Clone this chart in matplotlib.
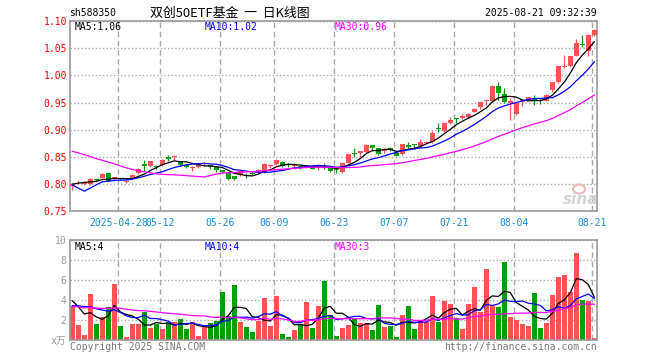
import matplotlib
matplotlib.use("Agg")
import matplotlib.pyplot as plt
from matplotlib.patches import Ellipse
import pandas as pd

plt.rcParams['font.family'] = ['DejaVu Sans Mono', 'Noto Sans CJK SC']

# daily K line, 88 sessions 2025-04-16 .. 2025-08-21 (x = session index)
open_ = [0.797, 0.803, 0.800, 0.800, 0.809, 0.8116, 0.8196, 0.811, 0.811, 0.803,
         0.8104, 0.8196, 0.8368, 0.8325, 0.8337, 0.8343, 0.8496, 0.849, 0.8417, 0.8356,
         0.8288, 0.831, 0.8368, 0.8355, 0.8306, 0.8251, 0.8202, 0.8141, 0.8166, 0.8153,
         0.820, 0.8227, 0.8215, 0.8325, 0.8368, 0.840, 0.8362, 0.833, 0.8325, 0.831,
         0.832, 0.831, 0.834, 0.829, 0.8273, 0.823, 0.8396, 0.8567, 0.858, 0.859,
         0.8715, 0.866, 0.860, 0.866, 0.857, 0.856, 0.872, 0.8739, 0.871, 0.876,
         0.877, 0.9023, 0.8978, 0.912, 0.921, 0.922, 0.9227, 0.933, 0.941, 0.9527,
         0.9533, 0.980, 0.966, 0.950, 0.9288, 0.951, 0.955, 0.955, 0.953, 0.9527,
         0.9723, 0.9877, 1.0153, 1.0177, 1.036, 1.0582, 1.044, 1.0747]
high = [0.802, 0.8067, 0.805, 0.811, 0.810, 0.820, 0.821, 0.814, 0.812, 0.807,
        0.819, 0.829, 0.8441, 0.843, 0.835, 0.846, 0.8527, 0.854, 0.843, 0.837,
        0.8325, 0.837, 0.840, 0.836, 0.8325, 0.8264, 0.8205, 0.8145, 0.825, 0.8196,
        0.822, 0.827, 0.838, 0.836, 0.846, 0.842, 0.839, 0.839, 0.834, 0.836,
        0.833, 0.837, 0.838, 0.831, 0.829, 0.839, 0.856, 0.866, 0.861, 0.873,
        0.872, 0.867, 0.867, 0.869, 0.858, 0.874, 0.878, 0.874, 0.883, 0.880,
        0.898, 0.913, 0.914, 0.923, 0.9215, 0.929, 0.931, 0.940, 0.9515, 0.955,
        0.982, 0.987, 0.977, 0.958, 0.9515, 0.955, 0.961, 0.964, 0.957, 0.966,
        0.988, 1.018, 1.038, 1.036, 1.067, 1.0747, 1.076, 1.085]
low = [0.790, 0.8006, 0.799, 0.799, 0.806, 0.811, 0.805, 0.808, 0.807, 0.802,
       0.810, 0.818, 0.825, 0.831, 0.8276, 0.833, 0.8423, 0.8435, 0.833, 0.829,
       0.825, 0.830, 0.8337, 0.8276, 0.8227, 0.8202, 0.8074, 0.8067, 0.8153, 0.811,
       0.816, 0.822, 0.821, 0.829, 0.836, 0.831, 0.832, 0.828, 0.828, 0.830,
       0.827, 0.826, 0.828, 0.822, 0.821, 0.820, 0.839, 0.849, 0.849, 0.858,
       0.860, 0.853, 0.857, 0.860, 0.851, 0.854, 0.867, 0.864, 0.870, 0.874,
       0.875, 0.8966, 0.896, 0.911, 0.912, 0.920, 0.921, 0.932, 0.939, 0.945,
       0.953, 0.955, 0.949, 0.918, 0.927, 0.944, 0.954, 0.946, 0.947, 0.952,
       0.970, 0.986, 1.014, 1.016, 1.035, 1.052, 1.035, 1.072]
close = [0.801, 0.804, 0.8037, 0.8098, 0.8067, 0.8184, 0.8061, 0.812, 0.8086, 0.805,
         0.8172, 0.8282, 0.8325, 0.842, 0.8313, 0.8447, 0.846, 0.8496, 0.8343, 0.8306,
         0.8294, 0.836, 0.838, 0.8313, 0.8257, 0.822, 0.8098, 0.8092, 0.8233, 0.8141,
         0.819, 0.8264, 0.8368, 0.8337, 0.8435, 0.8337, 0.835, 0.834, 0.829, 0.835,
         0.828, 0.833, 0.832, 0.825, 0.826, 0.8384, 0.8555, 0.8549, 0.860, 0.872,
         0.866, 0.856, 0.8647, 0.862, 0.852, 0.8733, 0.869, 0.8727, 0.878, 0.878,
         0.8935, 0.901, 0.9131, 0.918, 0.920, 0.926, 0.9294, 0.939, 0.951, 0.955,
         0.981, 0.967, 0.9515, 0.952, 0.949, 0.954, 0.9595, 0.954, 0.952, 0.9644,
         0.987, 1.017, 1.0177, 1.0349, 1.0594, 1.0563, 1.0747, 1.084]
volume = [3.45, 1.5, 0.5, 4.6, 1.6, 2.3, 3.3, 5.6, 1.4, 0.3,
          1.6, 1.6, 2.85, 1.25, 1.6, 1.1, 1.8, 1.8, 2.1, 1.15,
          1.8, 0.45, 1.4, 1.7, 1.95, 4.87, 2.4, 5.5, 1.8, 1.3,
          0.8, 1.95, 4.2, 1.4, 4.45, 0.6, 0.3, 1.0, 1.6, 3.85,
          1.2, 3.45, 5.97, 2.5, 0.4, 1.2, 1.5, 2.2, 1.7, 1.7,
          1.0, 3.5, 1.3, 1.4, 0.3, 2.5, 3.4, 1.1, 1.9, 1.8,
          4.4, 1.8, 3.95, 3.6, 2.2, 1.1, 3.6, 5.3, 2.8, 7.1,
          3.4, 3.3, 7.85, 2.3, 2.0, 1.6, 1.4, 4.7, 1.2, 1.7,
          4.5, 6.3, 6.5, 4.8, 8.7, 4.0, 3.9, 0.2]

# the 29 sessions before the window, only used to seed the moving averages
pre_close = [0.885, 0.905, 0.915, 0.920, 0.912, 0.905, 0.910, 0.918, 0.913,
             0.905, 0.900, 0.895, 0.893, 0.892, 0.870, 0.862, 0.858, 0.858,
             0.855, 0.852, 0.862, 0.860, 0.752, 0.748, 0.762, 0.795, 0.798,
             0.804, 0.802]
pre_volume = [3.2, 3.6, 3.0, 3.8, 3.4, 2.9, 3.5, 3.3, 3.1, 3.9, 3.6, 3.2, 3.0,
              3.4, 3.7, 3.3, 3.1, 3.5, 3.2, 3.7, 1.5, 1.6, 4.5, 3.7, 3.5,
              4.5, 4.2, 3.9, 3.75]

date_idx = [8, 15, 25, 34, 44, 54, 64, 74, 87]
date_labels = ['2025-04-28', '05-12', '05-26', '06-09', '06-23',
               '07-07', '07-21', '08-04', '08-21']
price_ticks = [0.75, 0.80, 0.85, 0.90, 0.95, 1.00, 1.05, 1.10]
vol_ticks = [0, 2, 4, 6, 8, 10]
vol_tick_labels = ['x万', '2', '4', '6', '8', '10']

RED, GREEN = '#ff5252', '#00a000'
GRID, EDGE = '#aaaaaa', '#999999'
W, H = 660, 360


def box(l, t, r, b):
    return [l / W, 1 - b / H, (r - l) / W, (b - t) / H]


def fxy(x, y):
    return x / W, 1 - y / H


n = len(close)
x = list(range(n))
cols = [RED if c >= o else GREEN for o, c in zip(open_, close)]
grid_x = [i - 0.33 for i in date_idx]

def ma(pre, vals, k):
    s = pd.Series(pre + vals).rolling(k).mean()
    return s.iloc[len(pre):].to_numpy()

ma_p = {k: ma(pre_close, close, k) for k in (5, 10, 30)}
ma_v = {k: ma(pre_volume, volume, k) for k in (5, 10, 30)}
ma_col = {5: 'black', 10: '#0000ff', 30: '#ff00ff'}

fig = plt.figure(figsize=(W / 100, H / 100), dpi=100)
ax = fig.add_axes(box(70.3, 21, 597.3, 211.3))
axv = fig.add_axes(box(70.3, 240.3, 597.3, 340.3))

for a in (ax, axv):
    a.set_xlim(-0.33, n - 0.5)
    for s in a.spines.values():
        s.set_color(EDGE)
        s.set_linewidth(1.2)
    a.set_xticks(grid_x)
    a.xaxis.grid(True, color=GRID, ls=(0, (4, 2.6)), lw=1)
    a.yaxis.grid(True, color=GRID, ls=(0, (1, 1.6)), lw=1)
    a.set_axisbelow(True)

# price panel
ax.vlines(x, low, high, colors=cols, lw=0.9, zorder=2)
body = [max(abs(c - o), 0.0018) for o, c in zip(open_, close)]
ax.bar(x, body, bottom=[min(o, c) for o, c in zip(open_, close)],
       width=0.8, color=cols, linewidth=0, zorder=3)
for k in (5, 10, 30):
    ax.plot(x, ma_p[k], color=ma_col[k], lw=0.9, zorder=4)
ax.set_ylim(0.75, 1.10)
ax.set_yticks(price_ticks, [f'{v:.2f}' for v in price_ticks])
ax.set_xticklabels(date_labels)
ax.tick_params(axis='y', length=0, pad=2.3, labelcolor='red', labelsize=7)
ax.tick_params(axis='x', length=0, pad=4.5, labelcolor='#1a8ad4', labelsize=7)

# volume panel
axv.bar(x, volume, width=0.8, color=cols, linewidth=0, zorder=2)
for k in (5, 10, 30):
    axv.plot(x, ma_v[k], color=ma_col[k], lw=0.9, zorder=4)
axv.set_ylim(0, 10)
axv.set_yticks(vol_ticks, vol_tick_labels)
axv.set_xticklabels([])
axv.tick_params(axis='y', length=0, pad=3, labelcolor='#999999', labelsize=7)
axv.tick_params(axis='x', length=0)

# header and legends
fig.text(*fxy(69, 13), 'sh588350', fontsize=7, va='center')
fig.text(*fxy(150, 13), '双创50ETF基金  一  日K线图', fontsize=9.3,
         family=['Noto Sans CJK SC'], va='center')
fig.text(*fxy(597, 13), '2025-08-21 09:32:39', fontsize=7, va='center', ha='right')

for k, xp in ((5, 74.5), (10, 205), (30, 334.5)):
    fig.text(*fxy(xp, 26.5), f'MA{k}:{ma_p[k][-1]:.2f}', color=ma_col[k],
             fontsize=7, va='center')
    # volume averages are shown truncated to whole units
    fig.text(*fxy(xp, 246.5), f'MA{k}:{int(ma_v[k][-1])}', color=ma_col[k],
             fontsize=7, va='center')

fig.text(*fxy(70, 347), 'Copyright 2025 SINA.COM', color='#777777', fontsize=7, va='center')
fig.text(*fxy(597, 347), 'http://finance.sina.com.cn', color='#777777', fontsize=7,
         va='center', ha='right')

# sina watermark
fig.add_artist(Ellipse(fxy(579, 189), 12 / W, 9 / H, transform=fig.transFigure,
                       fc='none', ec='#f2b8b8', lw=1.5))
fig.text(*fxy(581, 199), 'sina', color='#d4d4d4', fontsize=11, family='DejaVu Sans',
         style='italic', weight='bold', ha='center', va='center')

fig.savefig('out.png', dpi=100)
